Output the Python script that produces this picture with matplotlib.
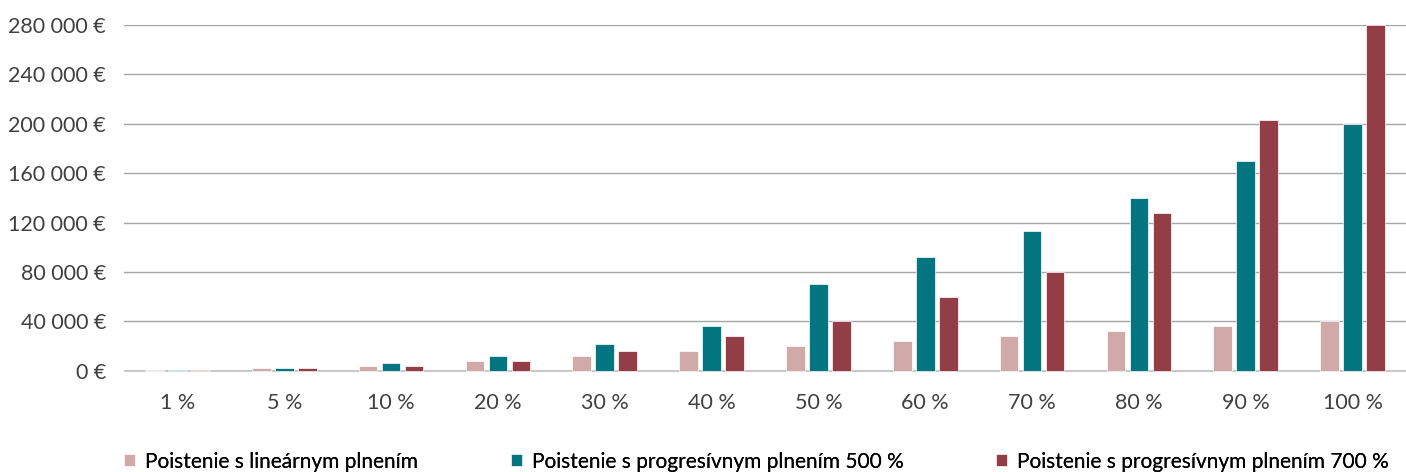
import matplotlib
matplotlib.use("Agg")
import matplotlib.pyplot as plt
import numpy as np

categories = ["1 %", "5 %", "10 %", "20 %", "30 %", "40 %", "50 %", "60 %", "70 %", "80 %", "90 %", "100 %"]
linear = [400, 2000, 4000, 8000, 12000, 16000, 20000, 24000, 28000, 32000, 36000, 40000]
prog500 = [400, 2000, 6000, 12000, 22000, 36000, 70000, 92000, 113500, 140000, 170000, 200000]
prog700 = [400, 2000, 4000, 8000, 16000, 28000, 40000, 60000, 80000, 128000, 203500, 280000]
series_names = ["Poistenie s lineárnym plnením",
                "Poistenie s progresívnym plnením 500 %",
                "Poistenie s progresívnym plnením 700 %"]
colors = ["#D0A9A9", "#037581", "#933D47"]
yticks = [0, 40000, 80000, 120000, 160000, 200000, 240000, 280000]

plt.rcParams['font.family'] = ['Lato', 'DejaVu Sans']

fig = plt.figure(figsize=(14.06, 4.72), dpi=100)
ax = fig.add_axes([124/1406, 1 - 372/472, (1406-124)/1406, (372-25)/472])

x = np.arange(len(categories))
w = 0.175
off = 0.215
bars = []
for i, (vals, c, n) in enumerate(zip([linear, prog500, prog700], colors, series_names)):
    b = ax.bar(x + (i-1)*off, vals, width=w, color=c, label=n, zorder=3,
               edgecolor='white', linewidth=0.5)
    bars.append(b)

ax.set_xlim(-0.5, len(categories) - 0.5)
ax.set_ylim(-900, 280000)
ax.set_yticks(yticks)
ax.set_yticklabels([("{:,}".format(v).replace(",", " ") + " €") for v in yticks])
ax.set_xticks(x)
ax.set_xticklabels(categories)
ax.tick_params(axis='both', length=0, labelsize=15.5, colors='#404040')
ax.tick_params(axis='y', pad=13)
ax.tick_params(axis='x', pad=15)
ax.yaxis.grid(True, color='#a6a6a6', linewidth=1, zorder=0)
ax.axhline(0, color='#c8c8c8', linewidth=2.2, zorder=2)
for s in ax.spines.values():
    s.set_visible(False)

leg_x = [109, 496, 981]
for b, n, lx in zip(bars, series_names, leg_x):
    lg = fig.legend([b], [n], loc='lower left', bbox_to_anchor=(lx/1406, -0.03),
                    frameon=False, fontsize=15, handlelength=0.55, handleheight=0.55,
                    handletextpad=0.5, borderaxespad=0.3)
    fig.add_artist(lg)

fig.savefig("out.png", dpi=100, facecolor='white')
